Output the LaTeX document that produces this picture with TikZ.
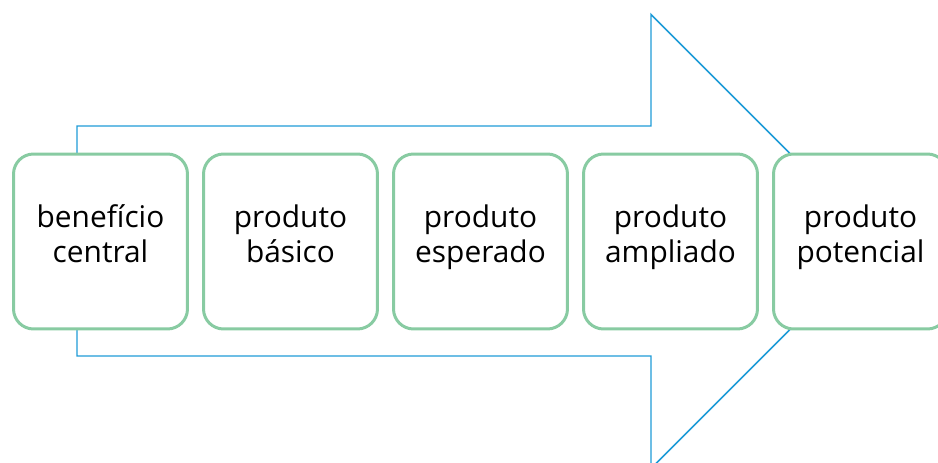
\documentclass[tikz,border=0pt]{standalone}
\usepackage{fontspec}
\setmainfont{Open Sans}

\definecolor{boxgreen}{HTML}{88CBA2}
\definecolor{arrowblue}{HTML}{1E9BD7}

\tikzset{
  etapa/.style={draw=boxgreen, line width=1.7pt, fill=white,
    rounded corners=0.4cm, minimum width=3.48cm, minimum height=3.5cm,
    align=center, text height=24.4pt, text depth=0pt,
    font=\fontsize{17}{20}\selectfont}
}

\begin{document}
\begin{tikzpicture}[x=0.02cm, y=-0.02cm]
  \useasboundingbox (0,0) rectangle (938,463);
  \clip (0,0) rectangle (938,463);

  % big arrow in the background
  \draw[arrowblue, line width=0.85pt] (77,241.5) -- (77,126) -- (651,126) -- (651,14.5)
    -- (878,241.5) -- (651,468.5) -- (651,356) -- (77,356) -- cycle;

  % the five levels
  \node[etapa] (central) at (100.5,241.5) {benefício\\central};
  \node[etapa] (basico) at (290.5,241.5) {produto\\básico};
  \node[etapa] (esperado) at (480.5,241.5) {produto\\esperado};
  \node[etapa] (ampliado) at (670.5,241.5) {produto\\ampliado};
  \node[etapa] (potencial) at (860.5,241.5) {produto\\potencial};
\end{tikzpicture}
\end{document}
